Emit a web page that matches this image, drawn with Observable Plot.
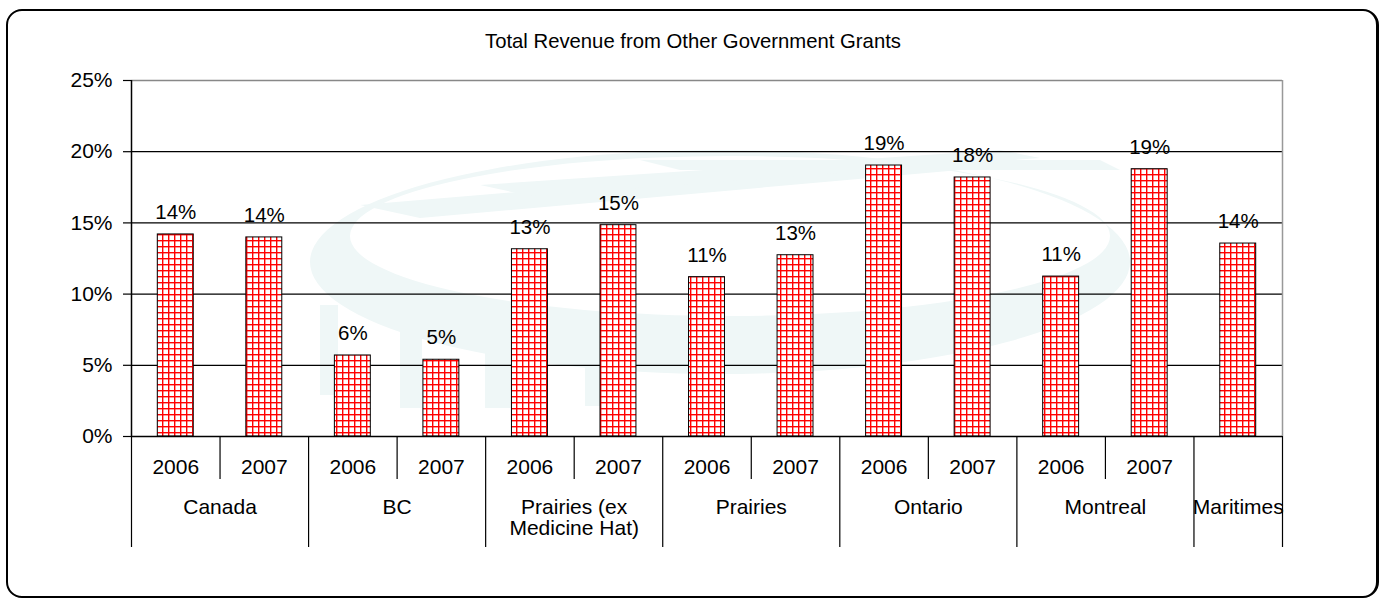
<!DOCTYPE html>
<html>
<head>
<meta charset="utf-8">
<script src="https://cdn.jsdelivr.net/npm/d3@7"></script>
<script src="https://cdn.jsdelivr.net/npm/@observablehq/plot@0.6"></script>
<style>
  html, body { margin: 0; padding: 0; background: #fff; }
  #wrap { position: relative; width: 1380px; height: 598px; overflow: hidden;
          font-family: "Liberation Sans", Arial, sans-serif; }
  #frame { position: absolute; left: 6px; top: 9px; width: 1373px; height: 589px;
           box-sizing: border-box; border: 2px solid #000; border-right-width: 3px;
           border-radius: 16px; pointer-events: none; }
  #title { position: absolute; left: 0; width: 1386px; top: 30px; text-align: center;
           font-size: 20.3px; color: #000; line-height: 22px; }
  #chart { position: absolute; left: 0; top: 0; }
  #watermark { position: absolute; left: 0; top: 0; }
</style>
</head>
<body>
<div id="wrap">
  <svg id="watermark" width="1380" height="598">
    <g fill="#eff7f7">
      <path fill-rule="evenodd" d="M310,262 a410,112 0 1,0 820,0 a410,112 0 1,0 -820,0 Z M350,236 a380,80 0 1,0 760,0 a380,80 0 1,0 -760,0 Z"/>
      <polygon points="360,205 900,160 960,170 420,218"/>
      <polygon points="480,185 1000,150 1040,158 530,196"/>
      <polygon points="640,160 1100,160 1120,170 680,170"/>
      <rect x="262" y="292" width="14" height="70"/>
      <rect x="320" y="305" width="18" height="90"/>
      <rect x="400" y="318" width="22" height="90"/>
      <rect x="485" y="328" width="28" height="80"/>
      <rect x="585" y="334" width="30" height="72"/>
    </g>
  </svg>
  <div id="chart"></div>
  <div id="title">Total Revenue from Other Government Grants</div>
  <div id="frame"></div>
</div>
<script>
// ---- data ----
const barGroup = ["Canada", "Canada", "BC", "BC",
  "Prairies (ex\nMedicine Hat)", "Prairies (ex\nMedicine Hat)",
  "Prairies", "Prairies", "Ontario", "Ontario", "Montreal", "Montreal", "Maritimes"];
const barYear = ["2006", "2007", "2006", "2007", "2006", "2007", "2006", "2007",
  "2006", "2007", "2006", "2007", ""];
const values = [14.19, 13.98, 5.69, 5.39, 13.15, 14.84, 11.19, 12.73,
  19.03, 18.19, 11.23, 18.77, 13.55];
const yTicks = [0, 5, 10, 15, 20, 25];

// ---- derived tables ----
const bars = values.map((v, i) => ({i, group: barGroup[i], year: barYear[i], value: v}));
const groupSpans = [];
bars.forEach(b => {
  const last = groupSpans[groupSpans.length - 1];
  if (last && last.group === b.group) last.end = b.i + 1;
  else groupSpans.push({group: b.group, start: b.i, end: b.i + 1});
});
const groupEdges = [...new Set(groupSpans.flatMap(g => [g.start, g.end]))];
const yearEdges = groupSpans.filter(g => g.end - g.start > 1).flatMap(g => d3.range(g.start + 1, g.end));
const yearLabels = bars.filter(b => b.year !== "");

const font = '"Liberation Sans", Arial, sans-serif';
const n = values.length;

const plot = Plot.plot({
  width: 1380,
  height: 598,
  marginLeft: 131,
  marginRight: 98,
  marginTop: 80,
  marginBottom: 162,
  style: {fontFamily: font, fontSize: "21px", color: "#000", background: "transparent", overflow: "visible"},
  x: {type: "linear", domain: [0, n]},
  y: {domain: [0, 25]},
  marks: [
    // gridlines
    Plot.ruleY(yTicks.filter(t => t > 0 && t < 25), {stroke: "#000", strokeWidth: 1.2}),
    Plot.ruleY([25], {stroke: "#888", strokeWidth: 1.5}),
    Plot.ruleX([n], {stroke: "#999", strokeWidth: 1.5}),
    // bars
    Plot.rectY(bars, {x1: "i", x2: d => d.i + 1, y: "value", insetLeft: 26.3, insetRight: 26.3,
      fill: "url(#redgrid)", stroke: "#000", strokeWidth: 1}),
    // value labels
    Plot.text(bars, {x: d => d.i + 0.5, y: "value", text: d => Math.round(d.value) + "%",
      dy: -22, lineAnchor: "middle", fontSize: 20.5, fill: "#000"}),
    // axes
    Plot.ruleY([0], {stroke: "#000", strokeWidth: 1.5}),
    Plot.ruleX([0], {stroke: "#000", strokeWidth: 1.5}),
    Plot.axisY({ticks: yTicks, tickFormat: d => d + "%", tickSize: 8, tickPadding: 11,
      fontSize: 21, stroke: "#000", strokeWidth: 1.2, label: null}),
    Plot.axisX({ticks: yearEdges, tickSize: 43, tickFormat: () => "", stroke: "#000", strokeWidth: 1.2, label: null}),
    Plot.axisX({ticks: groupEdges, tickSize: 111, tickFormat: () => "", stroke: "#000", strokeWidth: 1.2, label: null}),
    // category labels
    Plot.text(yearLabels, {x: d => d.i + 0.5, y: () => 0, text: "year", dy: 31,
      lineAnchor: "middle", fontSize: 21, fill: "#000"}),
    Plot.text(groupSpans, {x: d => (d.start + d.end) / 2, y: () => 0, text: "group", dy: 63,
      lineAnchor: "top", lineHeight: 1.0, fontSize: 21, fill: "#000"})
  ]
});

// hatch pattern for the bars
const svg = d3.select(plot);
const defs = svg.insert("defs", ":first-child");
const pat = defs.append("pattern").attr("id", "redgrid").attr("patternUnits", "userSpaceOnUse")
  .attr("width", 6).attr("height", 6);
pat.append("rect").attr("width", 6).attr("height", 6).attr("fill", "#fff");
pat.append("rect").attr("x", 0).attr("y", 0).attr("width", 1.4).attr("height", 6).attr("fill", "#ff0000");
pat.append("rect").attr("x", 0).attr("y", 0).attr("width", 6).attr("height", 1.4).attr("fill", "#ff0000");

document.getElementById("chart").appendChild(plot);
</script>
</body>
</html>
